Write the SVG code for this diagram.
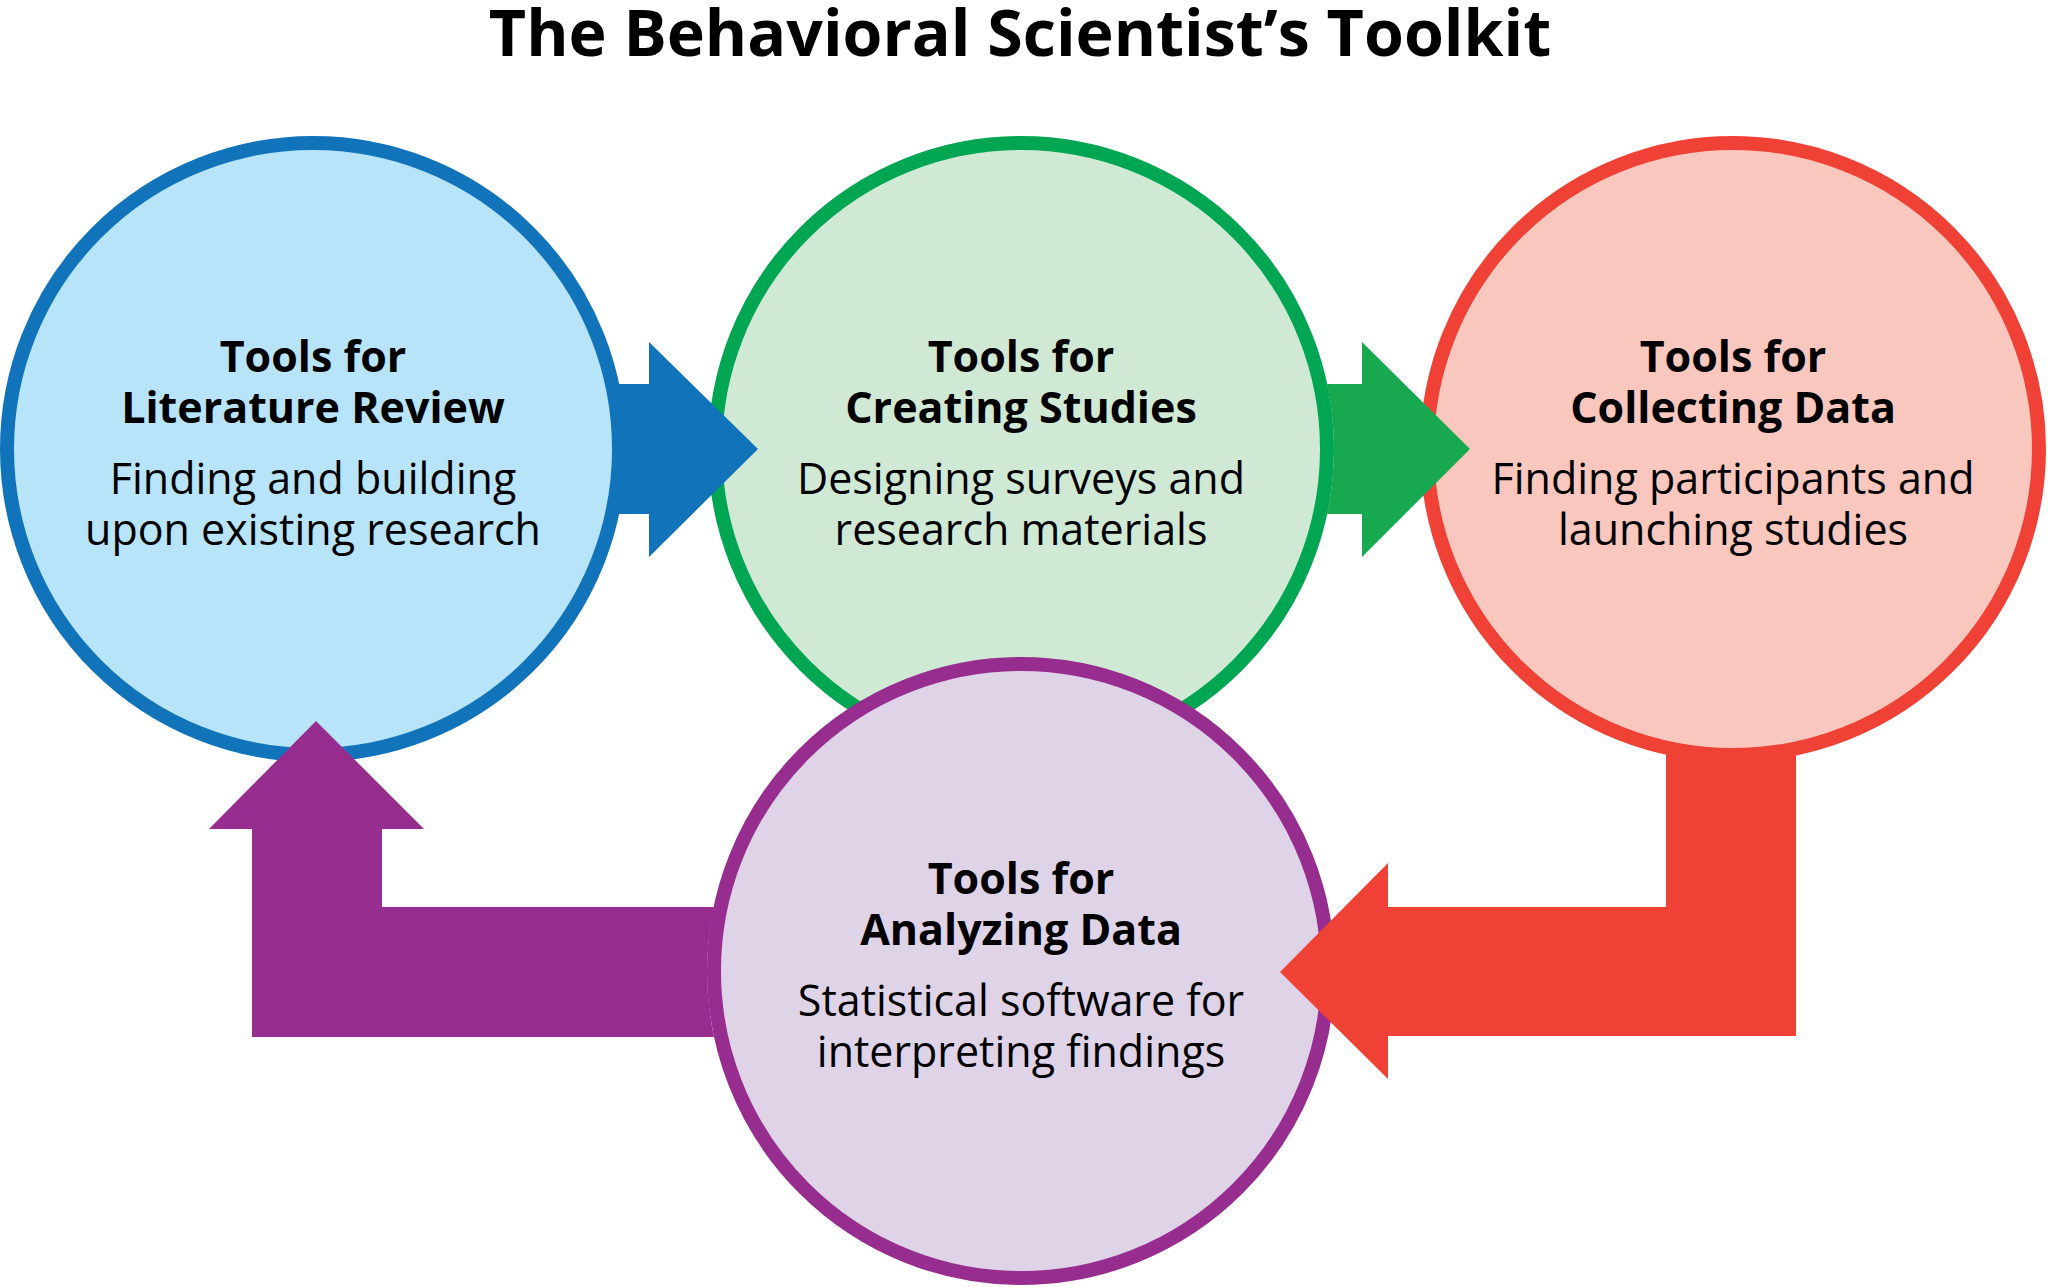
<svg xmlns="http://www.w3.org/2000/svg" width="2048" height="1287" viewBox="0 0 2048 1287">
<style>
.title{font-family:"Open Sans","Liberation Sans",sans-serif;font-weight:700;font-size:64.5px;fill:#000;text-anchor:middle}
.head{font-family:"Open Sans","Liberation Sans",sans-serif;font-weight:700;font-size:43px;fill:#000;text-anchor:middle}
.desc{font-family:"Open Sans","Liberation Sans",sans-serif;font-weight:400;font-size:43px;fill:#000;text-anchor:middle}
.ring{stroke-width:14}
</style>
<rect width="2048" height="1287" fill="#fff"/>
<text class="title" x="1020" y="56">The Behavioral Scientist’s Toolkit</text>

<g id="node-collecting">
<circle class="ring" cx="1733" cy="449" r="306" fill="#f9c7bd" stroke="#ef4136"/>
<text class="head" x="1733" y="372">Tools for</text>
<text class="head" x="1733" y="423">Collecting Data</text>
<text class="desc" x="1733" y="494">Finding participants and</text>
<text class="desc" x="1733" y="545">launching studies</text>
</g>

<g id="node-creating">
<circle class="ring" cx="1021" cy="449" r="306" fill="#d0e9d5" stroke="#00a651"/>
<text class="head" x="1021" y="372">Tools for</text>
<text class="head" x="1021" y="423">Creating Studies</text>
<text class="desc" x="1021" y="494">Designing surveys and</text>
<text class="desc" x="1021" y="545">research materials</text>
</g>

<g id="node-literature">
<circle class="ring" cx="313" cy="449" r="306" fill="#b7e4f9" stroke="#1173ba"/>
<text class="head" x="313" y="372">Tools for</text>
<text class="head" x="313" y="423">Literature Review</text>
<text class="desc" x="313" y="494">Finding and building</text>
<text class="desc" x="313" y="545">upon existing research</text>
</g>

<g id="node-analyzing">
<circle class="ring" cx="1021" cy="971" r="307" fill="#ded3e7" stroke="#972e8f"/>
<text class="head" x="1021" y="894">Tools for</text>
<text class="head" x="1021" y="945">Analyzing Data</text>
<text class="desc" x="1021" y="1016">Statistical software for</text>
<text class="desc" x="1021" y="1067">interpreting findings</text>
</g>

<g id="connectors">
<path id="arrow-lit-create" fill="#1173ba" d="M 612 384 L 649 384 L 649 342 L 758 449 L 649 557 L 649 514 L 612 514 Z"/>
<path id="arrow-create-collect" fill="#18a84f" d="M 1327 384 L 1362 384 L 1362 342 L 1470 449 L 1362 557 L 1362 514 L 1327 514 A 313 313 0 0 0 1327 384 Z"/>
<path id="arrow-collect-analyze" fill="#ef4136" d="M 1666 750 L 1796 750 L 1796 1036 L 1388 1036 L 1388 1079 L 1280 972 L 1388 863 L 1388 907 L 1666 907 Z"/>
<path id="arrow-analyze-lit" fill="#972e8f" d="M 714 907 A 314 314 0 0 0 714 1037 L 252 1037 L 252 829 L 209 829 L 316 721 L 424 829 L 382 829 L 382 907 Z"/>
</g>
</svg>
